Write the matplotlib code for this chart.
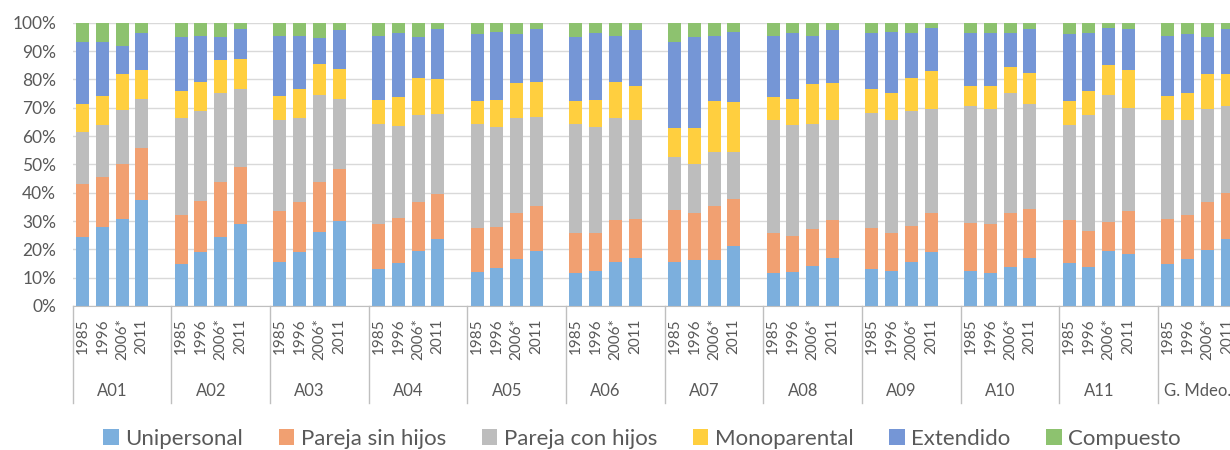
import numpy as np
import matplotlib.pyplot as plt
from matplotlib.transforms import blended_transform_factory

plt.rcParams['font.family'] = ['Lato', 'DejaVu Sans']

groups = ['A01', 'A02', 'A03', 'A04', 'A05', 'A06', 'A07', 'A08', 'A09', 'A10', 'A11', 'G. Mdeo.']
years = ['1985', '1996', '2006*', '2011']
series = ['Unipersonal', 'Pareja sin hijos', 'Pareja con hijos', 'Monoparental', 'Extendido', 'Compuesto']
colors = ['#7CAFDD', '#F1A071', '#BDBDBD', '#FFCF3F', '#7596D6', '#8DC26F']

# shares (%) per group, one row per year: Unipersonal, Pareja sin hijos, Pareja con hijos, Monoparental, Extendido, Compuesto
a01 = [[24.2, 18.7, 18.5, 10.0, 21.9, 6.7], [28.0, 17.5, 18.3, 10.3, 19.2, 6.7], [30.6, 19.5, 19.1, 12.7, 10.0, 8.1], [37.4, 18.2, 17.6, 10.1, 13.2, 3.5]]
a02 = [[14.7, 17.3, 34.5, 9.5, 19.1, 4.9], [18.9, 18.2, 31.7, 10.4, 16.2, 4.6], [24.2, 19.6, 31.4, 11.6, 8.3, 4.9], [28.9, 20.3, 27.3, 10.8, 10.5, 2.2]]
a03 = [[15.6, 17.9, 32.1, 8.5, 21.3, 4.6], [18.9, 17.7, 29.9, 10.0, 18.9, 4.6], [26.1, 17.7, 30.7, 11.0, 9.2, 5.3], [29.9, 18.5, 24.8, 10.4, 13.7, 2.7]]
a04 = [[12.9, 16.0, 35.2, 8.7, 22.6, 4.6], [15.3, 15.9, 32.4, 10.2, 22.7, 3.5], [19.4, 17.2, 30.8, 13.2, 14.5, 4.9], [23.8, 15.8, 28.2, 12.2, 17.8, 2.2]]
a05 = [[12.0, 15.5, 36.6, 8.3, 23.6, 4.0], [13.5, 14.5, 35.2, 9.6, 24.0, 3.2], [16.6, 16.3, 33.6, 12.2, 17.3, 4.0], [19.4, 15.9, 31.5, 12.4, 18.6, 2.2]]
a06 = [[11.5, 14.1, 38.5, 8.3, 22.7, 4.9], [12.5, 13.1, 37.6, 9.6, 23.7, 3.5], [15.6, 14.6, 36.3, 12.7, 16.2, 4.6], [17.1, 13.6, 34.8, 12.3, 19.5, 2.7]]
a07 = [[15.6, 18.3, 18.6, 10.4, 30.4, 6.7], [16.1, 16.8, 17.2, 12.8, 32.2, 4.9], [16.1, 19.2, 18.9, 18.2, 23.0, 4.6], [21.1, 16.8, 16.3, 17.8, 24.8, 3.2]]
a08 = [[11.5, 14.1, 39.9, 8.3, 21.6, 4.6], [12.0, 12.8, 39.0, 9.4, 23.3, 3.5], [14.2, 13.0, 36.9, 14.1, 17.2, 4.6], [17.1, 13.1, 35.3, 13.2, 18.6, 2.7]]
a09 = [[12.9, 14.6, 40.7, 8.3, 20.0, 3.5], [12.5, 13.1, 39.9, 9.6, 21.7, 3.2], [15.6, 12.8, 40.4, 11.8, 15.9, 3.5], [18.9, 14.0, 36.7, 13.2, 15.4, 1.8]]
a10 = [[12.5, 16.8, 41.2, 7.3, 18.7, 3.5], [11.5, 17.4, 40.7, 8.2, 18.7, 3.5], [13.9, 19.0, 42.2, 9.1, 12.3, 3.5], [17.1, 17.1, 37.2, 11.0, 15.4, 2.2]]
a11 = [[15.2, 15.0, 33.6, 8.6, 23.6, 4.0], [13.9, 12.7, 40.8, 8.6, 20.5, 3.5], [19.4, 10.4, 44.8, 10.5, 13.1, 1.8], [18.4, 15.0, 36.6, 13.3, 14.5, 2.2]]
mdeo = [[14.7, 16.0, 34.8, 8.6, 21.3, 4.6], [16.6, 15.4, 33.5, 9.6, 20.9, 4.0], [19.8, 16.8, 33.0, 12.3, 13.2, 4.9], [23.8, 16.2, 30.5, 11.4, 15.9, 2.2]]

data = np.array([a01, a02, a03, a04, a05, a06, a07, a08, a09, a10, a11, mdeo])  # (group, year, series)
data = data / data.sum(axis=2, keepdims=True)

fig = plt.figure(figsize=(12.3, 4.5), dpi=100)
# axes run past the right edge on purpose: the last group is cut off as in the original
ax = fig.add_axes([72.7 / 1230, 144 / 450, 1184 / 1230, 283.3 / 450])

slots = len(years) + 1
x = np.array([g * slots + i for g in range(len(groups)) for i in range(len(years))])
vals = data.reshape(-1, len(series))
bottom = np.zeros(len(x))
for k, name in enumerate(series):
    ax.bar(x, vals[:, k], 0.66, bottom=bottom, color=colors[k], label=name, zorder=2)
    bottom += vals[:, k]

ax.set_xlim(-0.5, len(groups) * slots - 0.5)
ax.set_ylim(0, 1)
ticks = np.arange(0, 1.01, 0.1)
ax.set_yticks(ticks)
ax.set_yticklabels([f'{int(round(v * 100))}%' for v in ticks])
ax.yaxis.grid(True, color='#D9D9D9', linewidth=1, zorder=0)
ax.tick_params(axis='y', length=0, pad=12, labelsize=12.5, labelcolor='#595959')
ax.set_xticks(x)
ax.set_xticklabels(years * len(groups), rotation=90, va='top', ha='center')
ax.tick_params(axis='x', length=0, pad=9, labelsize=11, labelcolor='#595959')
for s in ['top', 'right', 'left']:
    ax.spines[s].set_visible(False)
ax.spines['bottom'].set_color('#BFBFBF')

trans = blended_transform_factory(ax.transData, ax.transAxes)
for g, name in enumerate(groups):
    left = g * slots - 0.5
    ax.plot([left, left], [0, -0.342], transform=trans, color='#BFBFBF', lw=1, clip_on=False)
    ax.text(g * slots + 1.5, -0.3, name, transform=trans, ha='center', va='center',
            fontsize=12, color='#595959')

fig.legend(loc='center', bbox_to_anchor=(642 / 1230, 1 - 439 / 450), ncol=6, frameon=False,
           fontsize=16, handlelength=0.7, handleheight=0.7, handletextpad=0.3,
           columnspacing=1.6, labelcolor='#595959')

fig.savefig('out.png', dpi=100)
